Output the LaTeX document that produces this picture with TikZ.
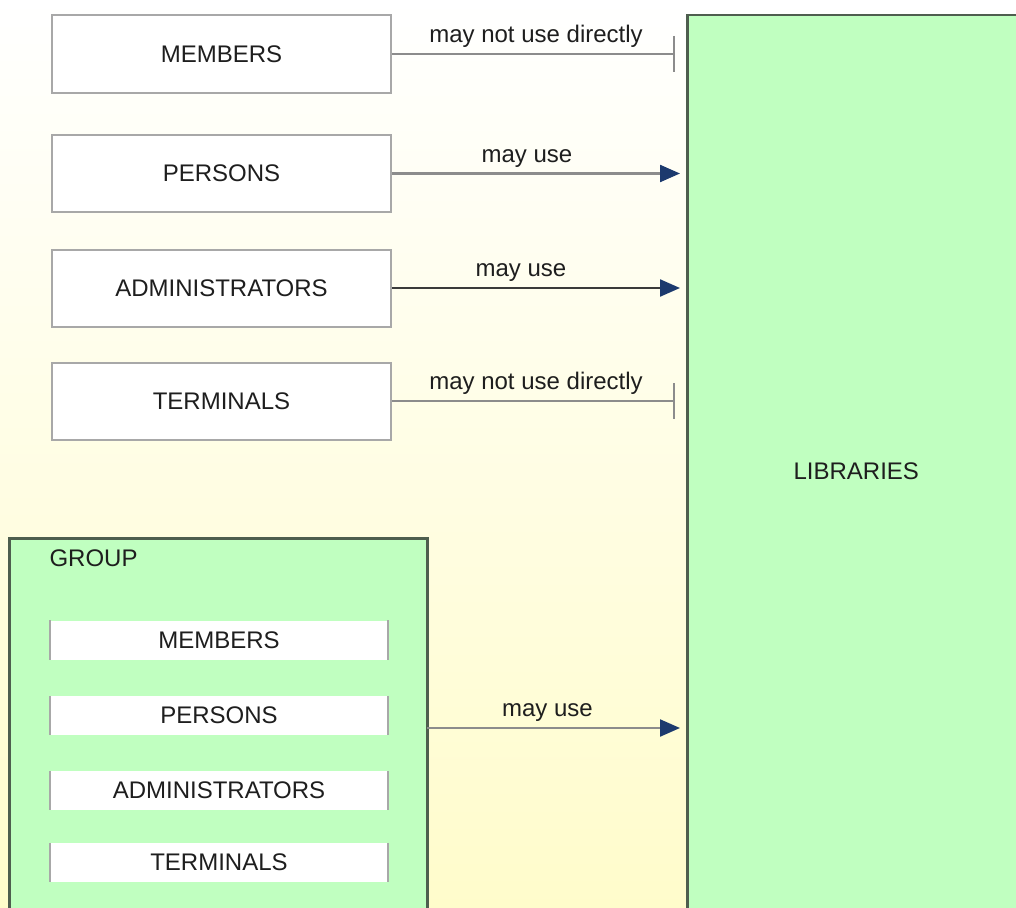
\documentclass[tikz,border=0pt]{standalone}
\usepackage{fontspec}
\setmainfont{Liberation Sans}
\usetikzlibrary{arrows.meta}
\definecolor{bgyellow}{HTML}{FFFCCB}
\definecolor{areagreen}{HTML}{C0FFC0}
\definecolor{areaborder}{HTML}{4E5E4E}
\definecolor{boxgray}{HTML}{A8A8A8}
\definecolor{linegray}{HTML}{8C8C8C}
\definecolor{linedark}{HTML}{3A3A3A}
\definecolor{tipblue}{HTML}{1C3A6E}
\definecolor{textgray}{HTML}{1E1E1E}

\begin{document}
\begin{tikzpicture}[x=1pt,y=-1pt,font=\fontsize{24}{28}\selectfont,every node/.style = {text=textgray}]
		\tikzset{
			rolebox/.style = { draw=boxgray, line width=2pt, fill=white, minimum width=339pt, minimum height=77pt },
			inbox/.style = { fill=white, minimum width=338pt, minimum height=39pt },
			area/.style = { draw=areaborder, line width=2.5pt, fill=areagreen, anchor=north west },
			uses/.style = { draw=linegray, line width=2.2pt, -{Triangle[length=20pt,width=17pt,color=tipblue]}, shorten >=6pt },
			denies/.style = { draw=linegray, line width=2.2pt, -{Bar[width=36pt]}, shorten >=11pt },
		}
		\path[use as bounding box] (0,0) rectangle (1016,907);
		\clip (0,0) rectangle (1016,907);
		\shade[top color=white, bottom color=bgyellow] (0,0) rectangle (1016,907);
		% target of all links
		\node[area, minimum width=338pt, minimum height=912pt] (lib) at (686,14) { LIBRARIES };
		% single roles
		\node[rolebox] (mem) at (221.5,54) { MEMBERS };
		\node[rolebox] (per) at (221.5,173.5) { PERSONS };
		\node[rolebox] (adm) at (221.5,288) { ADMINISTRATORS };
		\node[rolebox] (ter) at (221.5,401) { TERMINALS };
		% the group and what it holds
		\node[area, minimum width=418pt, minimum height=400pt] (grp) at (8,537) {};
		\node[anchor=west] (grplabel) at (46,558) { GROUP };
		\node[inbox] (gmem) at (219,640) { MEMBERS };
		\node[inbox] (gper) at (219,715.5) { PERSONS };
		\node[inbox] (gadm) at (219,790.5) { ADMINISTRATORS };
		\node[inbox] (gter) at (219,862.5) { TERMINALS };
		\foreach \n in {gmem,gper,gadm,gter}
			\draw[boxgray, line width=1.5pt] (\n.north west) -- (\n.south west) (\n.north east) -- (\n.south east);
		\coordinate (grpout) at (427,728);
		% links
		\draw[denies] (mem.east) -- (mem.east -| lib.west) node[midway, above=2pt, xshift=-3pt] { may not use directly };
		\draw[uses] (per.east) -- (per.east -| lib.west) node[midway, above=2pt, xshift=-12pt] { may use };
		\draw[uses, draw=linedark] (adm.east) -- (adm.east -| lib.west) node[midway, above=2pt, xshift=-18pt] { may use };
		\draw[denies] (ter.east) -- (ter.east -| lib.west) node[midway, above=2pt, xshift=-3pt] { may not use directly };
		\draw[uses] (grpout) -- (grpout -| lib.west) node[midway, above=2pt, xshift=-9pt] { may use };
\end{tikzpicture}
\end{document}
